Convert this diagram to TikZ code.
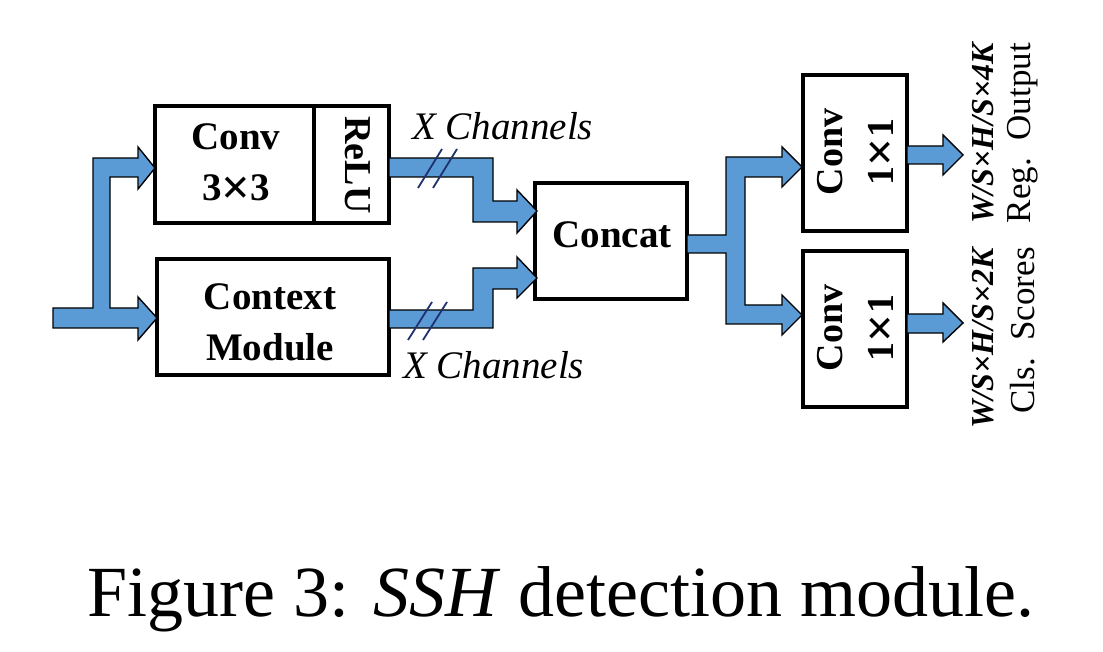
\documentclass[tikz,border=0pt]{standalone}
\usepackage{fontspec}
\setmainfont{Liberation Serif}
\usetikzlibrary{calc}
\definecolor{bandblue}{RGB}{91,155,213}
\definecolor{navy}{RGB}{31,50,110}
\newcommand\myx{\raisebox{-0.09em}{\scalebox{1.3}{×}}}
\tikzset{
  box/.style={draw, line width=4pt, inner sep=0pt, fill=white},
  band/.style={draw=black, line width=1.4pt, fill=bandblue, line join=miter},
  slash/.style={draw=navy, line width=1.8pt},
  boxtxt/.style={font=\fontsize{39}{51}\selectfont\bfseries, align=center, inner sep=0pt},
  chan/.style={font=\fontsize{39}{40}\selectfont\itshape, inner sep=0pt},
  dimtxt/.style={font=\fontsize{32}{36}\selectfont\bfseries\itshape, inner sep=0pt, rotate=90},
  outtxt/.style={font=\fontsize{35}{38}\selectfont, inner sep=0pt, rotate=90},
}
\begin{document}
\begin{tikzpicture}[x=1pt,y=-1pt]
\useasboundingbox (0,0) rectangle (1103,652);
% boxes
\node[box, minimum width=234pt, minimum height=117pt] (conv) at (272,164.5) {};
\node[box, minimum width=232pt, minimum height=116pt] (ctx) at (273,317) {};
\node[box, minimum width=152pt, minimum height=116pt] (concat) at (611,241) {};
\node[box, minimum width=104pt, minimum height=156pt] (reg) at (855,153) {};
\node[box, minimum width=104pt, minimum height=156pt] (cls) at (855,329) {};
\draw[line width=4pt] ($(conv.north west)+(161,0)$) coordinate (dtop) -- ($(conv.south west)+(161,0)$) coordinate (dbot);
% box texts
\node[boxtxt] (convt) at (236,164) {Conv\\3\myx3};
\node[boxtxt, rotate=-90, font=\fontsize{38}{40}\selectfont\bfseries] (relu) at (358,165) {ReLU};
\node[boxtxt] (ctxt) at (270,322) {Context\\Module};
\node[boxtxt] (concatt) at (612,235) {Concat};
\node[boxtxt, rotate=90, font=\fontsize{38}{51}\selectfont\bfseries] (regt) at (857,152) {Conv\\1\myx1};
\node[boxtxt, rotate=90, font=\fontsize{38}{51}\selectfont\bfseries] (clst) at (857,328) {Conv\\1\myx1};
% input fork
\draw[band] (53,308) -- (93,308) -- (93,158) -- (138,158) -- (138,147) -- (155,168) -- (138,189) -- (138,177)
  -- (110,177) -- (110,308) -- (138,308) -- (138,297) -- (157,318) -- (138,340) -- (138,328) -- (53,328) -- cycle;
% conv -> concat
\draw[band] (389,158) -- (493,158) -- (493,201) -- (517,201) -- (517,190) -- (537,211) -- (517,233) -- (517,222)
  -- (473,222) -- (473,177) -- (389,177) -- cycle;
% context -> concat
\draw[band] (389,310) -- (473,310) -- (473,268) -- (517,268) -- (517,257) -- (537,278) -- (517,298) -- (517,289)
  -- (493,289) -- (493,328) -- (389,328) -- cycle;
% concat fork
\draw[band] (687,235) -- (726,235) -- (726,157) -- (782,157) -- (782,147) -- (802,167) -- (782,187) -- (782,177)
  -- (745,177) -- (745,305) -- (782,305) -- (782,295) -- (802,315) -- (782,335) -- (782,324) -- (726,324)
  -- (726,253) -- (687,253) -- cycle;
% outputs
\draw[band] (907,146) -- (943,146) -- (943,135) -- (963,155) -- (943,175) -- (943,164) -- (907,164) -- cycle;
\draw[band] (907,314) -- (943,314) -- (943,303) -- (963,323) -- (943,342) -- (943,333) -- (907,333) -- cycle;
% slashes
\draw[slash] (418,188) -- (442,149);
\draw[slash] (433,188) -- (457,149);
\draw[slash] (408,340) -- (432,302);
\draw[slash] (423,340) -- (447,302);
% channel labels
\node[chan, anchor=base west] (ch1) at (412,140) {X Channels};
\node[chan, anchor=base west] (ch2) at (403,378) {X Channels};
% output labels
\node[dimtxt, anchor=east] (d1) at (983,43) {W/S×H/S×4K};
\node[outtxt, anchor=east] (o1) at (1023,43) {Reg.\ \ Output};
\node[dimtxt, anchor=east] (d2) at (983,248) {W/S×H/S×2K};
\node[outtxt, anchor=east] (o2) at (1023,247) {Cls.\ \ Scores};
% caption
\node[inner sep=0pt, anchor=base, font=\fontsize{72}{74}\selectfont] (cap) at (561,616) {Figure 3: \textit{SSH} detection module.};
\end{tikzpicture}
\end{document}
